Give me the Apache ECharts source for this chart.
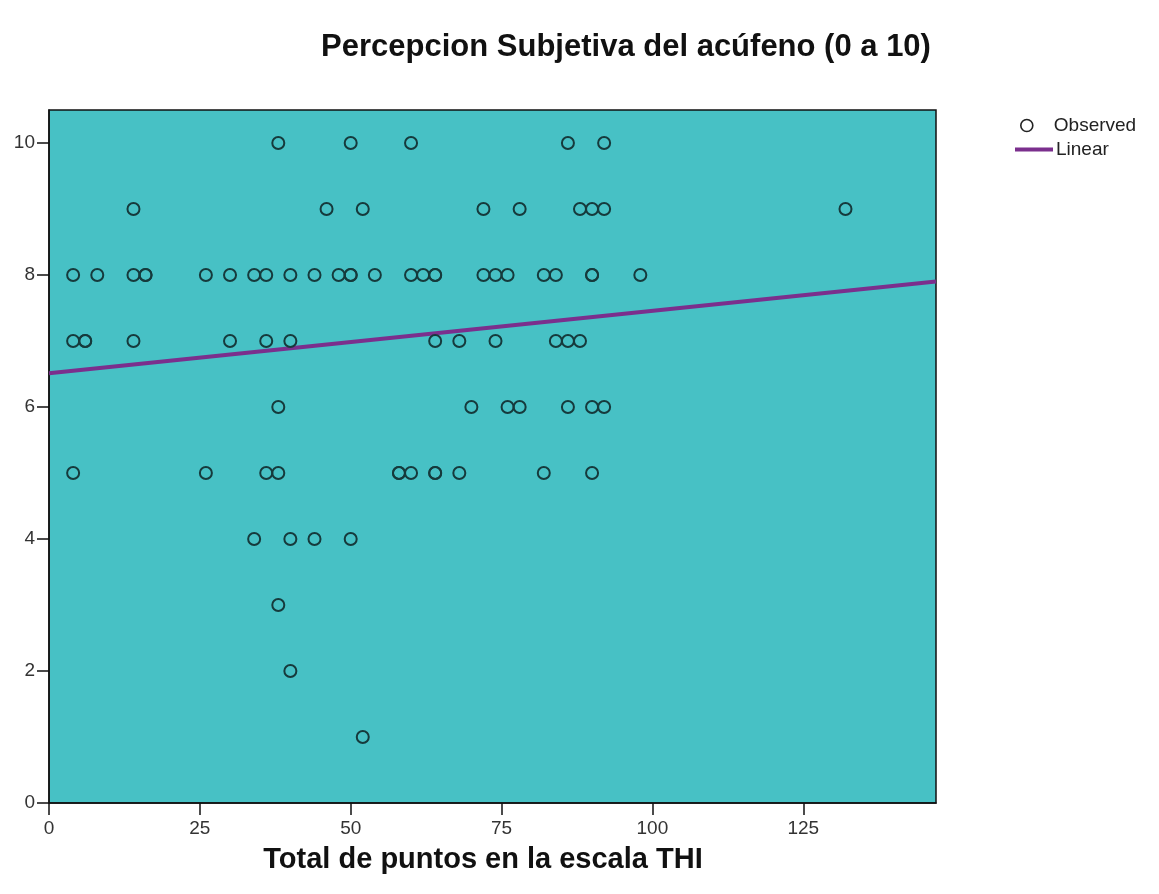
<!DOCTYPE html>
<html><head><meta charset="utf-8">
<script src="https://cdn.jsdelivr.net/npm/echarts@6/dist/echarts.min.js"></script>
<style>html,body{margin:0;padding:0;background:#fff}#c{width:1159px;height:894px}</style>
</head><body><div id="c"></div>
<script>
// Observed points: THI total score (x) vs subjective perception (y)
const thi10 = [38, 50, 60, 86, 92];
const thi9  = [14, 46, 52, 72, 78, 88, 90, 92, 132];
const thi8  = [4, 8, 14, 16, 16, 26, 30, 34, 36, 40, 44, 48, 50, 50, 54, 60, 62, 64, 64, 72, 74, 76, 82, 84, 90, 90, 98];
const thi7  = [4, 6, 6, 14, 30, 36, 40, 64, 68, 74, 84, 86, 88];
const thi6  = [38, 70, 76, 78, 86, 90, 92];
const thi5  = [4, 26, 36, 38, 58, 58, 60, 64, 64, 68, 82, 90];
const thi4  = [34, 40, 44, 50];
const thi3  = [38];
const thi2  = [40];
const thi1  = [52];
const perceptionLevels = [10, 9, 8, 7, 6, 5, 4, 3, 2, 1];
const thiByLevel = [thi10, thi9, thi8, thi7, thi6, thi5, thi4, thi3, thi2, thi1];
// Linear fit
const linearX = [0, 147];
const linearY = [6.51, 7.90];
const xTicks = [0, 25, 50, 75, 100, 125];
const yTicks = [0, 2, 4, 6, 8, 10];

const observed = [];
perceptionLevels.forEach((lv, i) => thiByLevel[i].forEach(x => observed.push([x, lv])));
const linear = linearX.map((x, i) => [x, linearY[i]]);

const chart = echarts.init(document.getElementById('c'));
const FONT = '"Liberation Sans", Arial, sans-serif';
chart.setOption({
  animation: false,
  backgroundColor: '#ffffff',
  title: [
    { text: 'Percepcion Subjetiva del acúfeno (0 a 10)', left: 621, top: 27, textAlign: 'center',
      textStyle: { fontFamily: FONT, fontSize: 31, fontWeight: 'bold', color: '#111' } },
    { text: 'Total de puntos en la escala THI', left: 478, top: 840, textAlign: 'center',
      textStyle: { fontFamily: FONT, fontSize: 29, fontWeight: 'bold', color: '#111' } }
  ],
  legend: [
    { data: [{ name: 'Observed', icon: 'circle',
        itemStyle: { color: 'transparent', borderColor: '#222', borderWidth: 1.6 } }],
      left: 1015, top: 111, itemWidth: 12, itemHeight: 12,
      textStyle: { fontFamily: FONT, fontSize: 19, color: '#222', padding: [0, 0, 0, 16] } },
    { data: [{ name: 'Linear', icon: 'rect', itemStyle: { color: '#7b2f8d' } }],
      left: 1010, top: 135, itemWidth: 38, itemHeight: 4,
      textStyle: { fontFamily: FONT, fontSize: 19, color: '#222', padding: [8, 0, 0, -2] } }
  ],
  grid: { left: 49, top: 110, width: 887, height: 693, show: true,
    backgroundColor: '#47c1c5', borderColor: '#111', borderWidth: 1.5 },
  xAxis: {
    type: 'value', min: 0, max: 147, interval: 25,
    splitLine: { show: false },
    axisLine: { show: true, lineStyle: { color: '#111', width: 1.5 } },
    axisTick: { show: true, length: 12, lineStyle: { color: '#111', width: 1.5 }, customValues: xTicks },
    axisLabel: { fontFamily: FONT, fontSize: 19, color: '#333', margin: 16, customValues: xTicks }
  },
  yAxis: {
    type: 'value', min: 0, max: 10.5, interval: 2,
    splitLine: { show: false },
    axisLine: { show: true, lineStyle: { color: '#111', width: 1.5 } },
    axisTick: { show: true, length: 12, lineStyle: { color: '#111', width: 1.5 }, customValues: yTicks },
    axisLabel: { fontFamily: FONT, fontSize: 19, color: '#333', margin: 14, customValues: yTicks }
  },
  series: [
    { name: 'Observed', type: 'scatter', data: observed, symbol: 'circle', symbolSize: 12,
      itemStyle: { color: 'transparent', borderColor: '#163a3c', borderWidth: 2, opacity: 1 }, z: 3 },
    { name: 'Linear', type: 'line', data: linear, showSymbol: false, symbol: 'none',
      lineStyle: { color: '#7b2f8d', width: 4 }, itemStyle: { color: '#7b2f8d' }, z: 2 }
  ]
});
</script></body></html>
